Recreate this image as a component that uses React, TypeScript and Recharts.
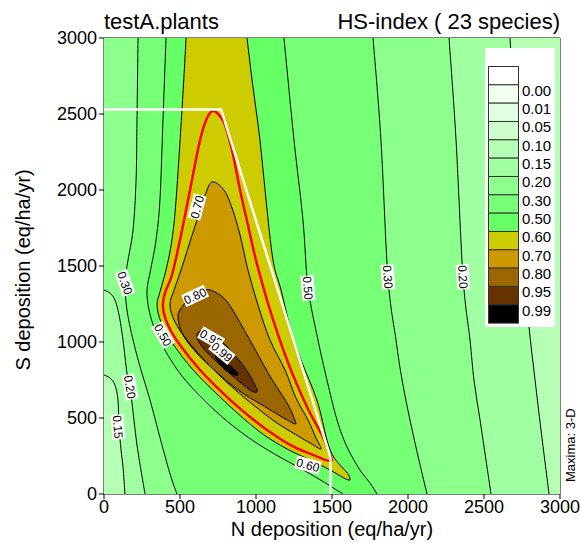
import { ScatterChart, Scatter, XAxis, YAxis, Legend } from 'recharts'

type Pt = [number, number]
type XY = { x: number; y: number }

const axisTicks = [0, 500, 1000, 1500, 2000, 2500, 3000]

const levelLabels = ['0.00', '0.01', '0.05', '0.10', '0.15', '0.20', '0.30', '0.50', '0.60', '0.70', '0.80', '0.95', '0.99']
const levelColors = ['#ffffff', '#f0fff0', '#e0ffe0', '#ccffcc', '#b4ffb4', '#a0ffa0', '#8cff8c', '#78ff78', '#66ff66', '#cccc00', '#cc9900', '#996600', '#663300', '#000000']

// contour lines as [N, S] points (eq/ha/yr)
const c015Left: Pt[] = [[0, 783], [39, 763], [72, 717], [92, 618], [99, 441], [112, 289], [125, 178], [138, 0]]
const c015Right: Pt[] = [[2671, 3000], [2704, 2461], [2737, 1934], [2770, 1408], [2796, 1099], [2836, 750], [2875, 421], [2928, 0]]
const c020Left: Pt[] = [[0, 1342], [39, 1322], [72, 1276], [99, 1178], [125, 1013], [151, 796], [171, 704], [197, 487], [217, 322], [243, 158], [270, 0]]
const c020Right: Pt[] = [[2270, 3000], [2316, 2329], [2362, 1428], [2408, 1013], [2434, 750], [2474, 487], [2513, 224], [2546, 0]]
const c030Left: Pt[] = [[224, 3000], [217, 2461], [211, 2066], [191, 1737], [158, 1539], [138, 1388], [151, 1211], [191, 1013], [243, 816], [303, 618], [355, 421], [408, 224], [447, 92], [480, 0]]
const c030Right: Pt[] = [[1770, 3000], [1822, 2329], [1868, 1428], [1921, 1013], [1961, 750], [2013, 487], [2072, 224], [2125, 0]]
const c050Left: Pt[] = [[408, 3000], [388, 2461], [368, 1934], [342, 1671], [309, 1487], [283, 1342], [296, 1211], [336, 1079], [408, 934], [513, 776], [658, 618], [816, 474], [974, 355], [1132, 257], [1289, 171], [1434, 86], [1572, 0]]
const c050Right: Pt[] = [[1184, 3000], [1250, 2329], [1309, 1803], [1342, 1362], [1408, 1013], [1467, 750], [1533, 487], [1599, 309], [1684, 158], [1750, 72], [1796, 0]]
const c060: Pt[] = [[540, 3000], [513, 2526], [474, 1934], [447, 1671], [408, 1474], [368, 1329], [349, 1243], [375, 1132], [454, 987], [586, 816], [750, 651], [914, 500], [1053, 388], [1204, 296], [1355, 224], [1487, 158], [1579, 105], [1618, 92], [1605, 132], [1559, 184], [1507, 250], [1467, 355], [1401, 618], [1296, 882], [1224, 1099], [1165, 1342], [1112, 1539], [1066, 1934], [1026, 2329], [974, 2724], [941, 3000]]
const c070: Pt[] = [[711, 2053], [789, 2000], [842, 1882], [895, 1704], [947, 1474], [1013, 1243], [1092, 1013], [1191, 816], [1263, 632], [1342, 487], [1395, 368], [1428, 296], [1355, 336], [1276, 382], [1138, 467], [1007, 566], [842, 704], [678, 862], [546, 1013], [467, 1132], [434, 1243], [461, 1342], [507, 1474], [559, 1638], [612, 1803], [664, 1961]]
const c080: Pt[] = [[500, 1211], [566, 1289], [664, 1342], [730, 1329], [816, 1257], [941, 1046], [1092, 776], [1204, 599], [1250, 500], [1257, 461], [1171, 507], [1039, 586], [882, 684], [724, 816], [592, 947], [513, 1059], [487, 1158]]
const c095: Pt[] = [[618, 1059], [664, 1079], [730, 1046], [829, 947], [928, 829], [993, 717], [1007, 671], [961, 684], [862, 763], [750, 862], [664, 947], [618, 1013]]
const c099: Pt[] = [[730, 914], [796, 868], [862, 816], [882, 783], [842, 789], [776, 836]]
const redLine: Pt[] = [[717, 2520], [757, 2493], [796, 2428], [842, 2263], [895, 2000], [947, 1770], [1000, 1539], [1092, 1211], [1204, 882], [1336, 572], [1434, 388], [1474, 289], [1493, 217], [1375, 257], [1237, 316], [1092, 408], [961, 507], [796, 651], [632, 816], [500, 980], [421, 1112], [388, 1230], [401, 1322], [447, 1441], [500, 1671], [566, 2000], [632, 2329], [678, 2474]]
const whiteLine: Pt[] = [[0, 2530], [770, 2530], [1490, 240], [1490, 0]]

const labelText = ['0.30', '0.50', '0.20', '0.15', '0.70', '0.80', '0.95', '0.99', '0.60', '0.50', '0.30', '0.20']
const labelN = [138, 388, 171, 92, 612, 599, 704, 776, 1342, 1342, 1868, 2362]
const labelS = [1388, 1046, 704, 441, 1888, 1303, 1026, 934, 191, 1355, 1428, 1428]
const labelAngle = [70, 60, 80, 85, -75, -25, 30, 40, 15, 85, 86, 86]

const frame: Pt[] = [[0, 0], [3000, 0], [3000, 3000], [0, 3000]]
const rev = (p: Pt[]) => [...p].reverse()

type Seg = { pts: Pt[]; smooth: boolean }

function curveThrough(p: XY[], closed: boolean, first: boolean) {
  const n = p.length
  const at = (i: number) => (closed ? p[(i + n) % n] : p[Math.min(n - 1, Math.max(0, i))])
  let d = `${first ? 'M' : 'L'}${p[0].x},${p[0].y}`
  const count = closed ? n : n - 1
  for (let i = 0; i < count; i++) {
    const a = at(i - 1), b = at(i), c = at(i + 1), e = at(i + 2)
    d += `C${b.x + (c.x - a.x) / 6},${b.y + (c.y - a.y) / 6} ${c.x - (e.x - b.x) / 6},${c.y - (e.y - b.y) / 6} ${c.x},${c.y}`
  }
  return d
}

function straight(p: XY[], first: boolean) {
  return p.map((q, i) => `${i === 0 && first ? 'M' : 'L'}${q.x},${q.y}`).join('')
}

const toXY = (p: Pt[]) => p.map(([x, y]) => ({ x, y }))
const noDot = () => <g />

function region(key: string, segs: Seg[], fill: string, closedCurve = false) {
  const data = toXY(segs.flatMap((s) => s.pts))
  const render = (props: any) => {
    const pts: XY[] = props.points
    let d = ''
    let k = 0
    segs.forEach((s, i) => {
      const part = pts.slice(k, k + s.pts.length)
      k += s.pts.length
      d += s.smooth ? curveThrough(part, closedCurve, i === 0) : straight(part, i === 0)
    })
    return <path d={d + 'Z'} fill={fill} stroke="none" />
  }
  return <Scatter key={key} data={data} line={render} shape={noDot} legendType="none" isAnimationActive={false} />
}

function contour(key: string, pts: Pt[], stroke: string, width: number, closed = false, smooth = true) {
  const render = (props: any) => {
    const p: XY[] = props.points
    const d = smooth ? curveThrough(p, closed, true) + (closed ? 'Z' : '') : straight(p, true)
    return <path d={d} fill="none" stroke={stroke} strokeWidth={width} strokeLinejoin="round" />
  }
  return <Scatter key={key} data={toXY(pts)} line={render} shape={noDot} legendType="none" isAnimationActive={false} />
}

const labels = labelText.map((text, i) => ({ x: labelN[i], y: labelS[i], text, angle: labelAngle[i] }))

function ContourLabel(props: any) {
  const { cx, cy, payload } = props
  return (
    <g transform={`translate(${cx},${cy}) rotate(${payload.angle})`}>
      <rect x={-12.5} y={-6.5} width={25} height={13} fill="#fff" />
      <text x={0} y={4.3} textAnchor="middle" fontSize={12} fill="#000">{payload.text}</text>
    </g>
  )
}

function LegendBox() {
  const h = 18.33
  return (
    <svg width={70} height={279} style={{ display: 'block', background: '#fff' }}>
      {levelColors.map((c, i) => (
        <rect key={i} x={3.5} y={18.5 + i * h} width={30} height={h} fill={c} stroke="#333" strokeWidth={1} />
      ))}
      {levelLabels.map((t, i) => (
        <text key={t} x={37} y={18.5 + (i + 1) * h + 11} fontSize={15} fill="#000">{t}</text>
      ))}
    </svg>
  )
}

const tickStyle = { fill: '#000', fontSize: 18 }

export default function App() {
  return (
    <div style={{ position: 'absolute', left: 0, top: 0, width: 580, height: 543, background: '#fff', fontFamily: '"Liberation Sans", Arial, sans-serif' }}>
      <ScatterChart width={580} height={543} margin={{ top: 38, right: 20, bottom: 19, left: 44 }}>
        <XAxis type="number" dataKey="x" domain={[0, 3000]} ticks={axisTicks} allowDataOverflow height={30} tick={tickStyle} tickSize={5} tickMargin={1} axisLine={{ stroke: '#000' }} tickLine={{ stroke: '#000' }} />
        <YAxis type="number" dataKey="y" domain={[0, 3000]} ticks={axisTicks} allowDataOverflow width={60} tick={tickStyle} tickSize={5} tickMargin={2} axisLine={{ stroke: '#000' }} tickLine={{ stroke: '#000' }} />
        <XAxis xAxisId="top" orientation="top" mirror type="number" dataKey="x" domain={[0, 3000]} ticks={axisTicks} tickFormatter={() => ''} tickSize={5} axisLine={{ stroke: '#000' }} tickLine={{ stroke: '#000' }} />
        <YAxis yAxisId="right" orientation="right" mirror type="number" dataKey="y" domain={[0, 3000]} ticks={axisTicks} tickFormatter={() => ''} tickSize={5} axisLine={{ stroke: '#000' }} tickLine={{ stroke: '#000' }} />

        {region('r010', [{ pts: frame, smooth: false }], levelColors[4])}
        {region('r015', [{ pts: [[0, 3000]], smooth: false }, { pts: c015Right, smooth: true }, { pts: rev(c015Left), smooth: true }], levelColors[5])}
        {region('r020', [{ pts: c020Left, smooth: true }, { pts: rev(c020Right), smooth: true }, { pts: [[0, 3000]], smooth: false }], levelColors[6])}
        {region('r030', [{ pts: c030Left, smooth: true }, { pts: rev(c030Right), smooth: true }], levelColors[7])}
        {region('r050', [{ pts: c050Left, smooth: true }, { pts: rev(c050Right), smooth: true }], levelColors[8])}
        {region('r060', [{ pts: c060, smooth: true }], levelColors[9])}
        {region('r070', [{ pts: c070, smooth: true }], levelColors[10], true)}
        {region('r080', [{ pts: c080, smooth: true }], levelColors[11], true)}
        {region('r095', [{ pts: c095, smooth: true }], levelColors[12], true)}
        {region('r099', [{ pts: c099, smooth: true }], levelColors[13], true)}

        {contour('l015a', c015Left, '#000', 1)}
        {contour('l015b', c015Right, '#000', 1)}
        {contour('l020a', c020Left, '#000', 1)}
        {contour('l020b', c020Right, '#000', 1)}
        {contour('l030a', c030Left, '#000', 1)}
        {contour('l030b', c030Right, '#000', 1)}
        {contour('l050a', c050Left, '#000', 1)}
        {contour('l050b', c050Right, '#000', 1)}
        {contour('l060', c060, '#000', 1)}
        {contour('l070', c070, '#000', 1, true)}
        {contour('l080', c080, '#000', 1, true)}
        {contour('l095', c095, '#000', 1, true)}
        {contour('l099', c099, '#000', 1, true)}
        {contour('red', redLine, '#ff0000', 2.5, true)}
        {contour('white', whiteLine, '#ffffff', 2.5, false, false)}

        <Scatter data={labels} shape={ContourLabel} legendType="none" isAnimationActive={false} />

        <Legend layout="horizontal" verticalAlign="middle" align="center" content={() => <LegendBox />} wrapperStyle={{ left: 485, top: 48, width: 70, height: 279 }} />
      </ScatterChart>

      <svg width={580} height={543} style={{ position: 'absolute', left: 0, top: 0, pointerEvents: 'none' }}>
        <text x={104} y={29} fontSize={22} fill="#000">testA.plants</text>
        <text x={560} y={29} fontSize={22} fill="#000" textAnchor="end">HS-index ( 23 species)</text>
        <text x={332} y={536} fontSize={20} fill="#000" textAnchor="middle">N deposition (eq/ha/yr)</text>
        <text transform="translate(30,270) rotate(-90)" fontSize={20} fill="#000" textAnchor="middle">S deposition (eq/ha/yr)</text>
        <text transform="translate(575,482) rotate(-90)" fontSize={13} fill="#000">Maxima: 3-D</text>
      </svg>
    </div>
  )
}
